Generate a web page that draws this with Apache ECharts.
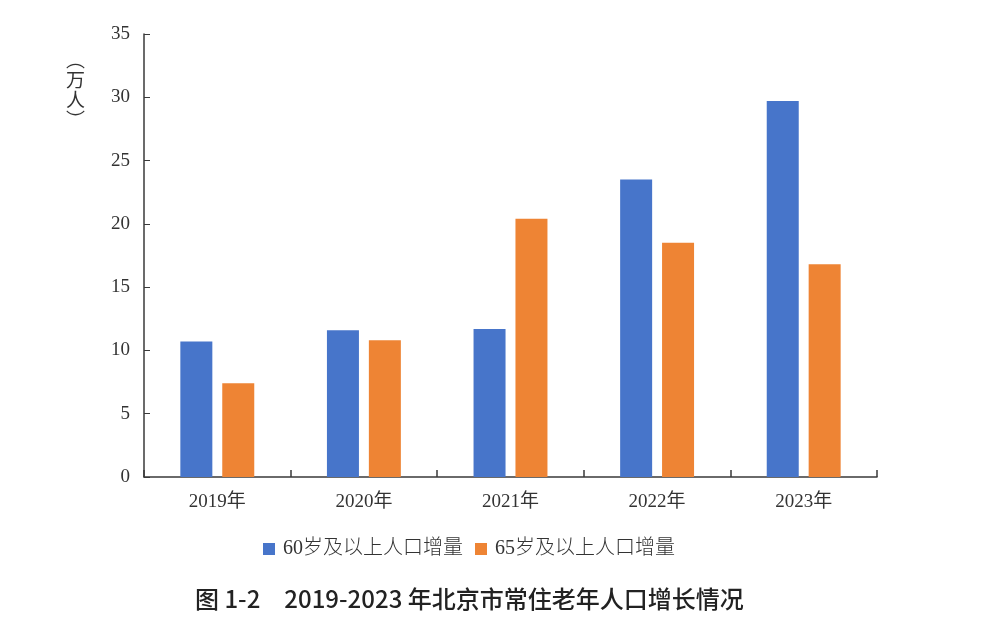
<!DOCTYPE html>
<html>
<head>
<meta charset="utf-8">
<script src="https://cdn.jsdelivr.net/npm/echarts@6/dist/echarts.min.js"></script>
<style>
  html, body { margin: 0; padding: 0; background: #fff; }
  #chart { width: 984px; height: 634px; }
</style>
</head>
<body>
<div id="chart"></div>
<script>
// 数据
const years = ["2019年", "2020年", "2021年", "2022年", "2023年"];
const over60 = [10.7, 11.6, 11.7, 23.5, 29.7];
const over65 = [7.4, 10.8, 20.4, 18.5, 16.8];
const seriesNames = ["60岁及以上人口增量", "65岁及以上人口增量"];
const titleText = "图 1-2　2019-2023 年北京市常住老年人口增长情况";

const chart = echarts.init(document.getElementById("chart"));

const serif = "Liberation Serif";
const axisColor = "#3a3a3a";

const option = {
  animation: false,
  backgroundColor: "#fff",
  grid: {
    left: 144,
    right: 107,
    top: 34,
    bottom: 157,
  },
  legend: {
    bottom: 70,
    left: 258,
    itemWidth: 12,
    itemHeight: 12,
    itemGap: 12,
    icon: "rect",
    textStyle: {
      fontFamily: serif + ", Noto Sans CJK SC",
      fontSize: 20,
      fontWeight: 300,
      color: "#333",
      padding: [0, 0, 0, 3],
    },
    data: seriesNames,
  },
  xAxis: {
    type: "category",
    data: years,
    axisLine: { lineStyle: { color: axisColor, width: 1.5 } },
    axisTick: {
      show: true,
      inside: true,
      length: 7,
      alignWithLabel: false,
      lineStyle: { color: axisColor, width: 1.5 },
    },
    axisLabel: {
      margin: 16,
      fontFamily: serif + ", Noto Sans CJK SC",
      fontSize: 19,
      color: "#333",
    },
  },
  yAxis: {
    type: "value",
    min: 0,
    max: 35,
    interval: 5,
    splitLine: { show: false },
    axisLine: { show: true, lineStyle: { color: axisColor, width: 1.5 } },
    axisTick: { show: true, inside: true, length: 6, lineStyle: { color: axisColor } },
    axisLabel: {
      margin: 14,
      fontFamily: serif,
      fontSize: 19,
      color: "#333",
    },
  },
  graphic: [
    {
      type: "text",
      left: 66,
      top: 50,
      style: {
        text: "︵\n万\n人\n︶",
        fontFamily: "Noto Sans CJK SC",
        fontSize: 19,
        lineHeight: 20,
        fill: "#333",
        align: "center",
      },
    },
    {
      type: "text",
      left: 195,
      top: 587,
      style: {
        text: titleText,
        fontFamily: "Noto Sans CJK SC",
        fontSize: 24,
        fontWeight: 500,
        fill: "#222",
      },
    },
  ],
  series: [
    {
      name: seriesNames[0],
      type: "bar",
      data: over60,
      barWidth: 32,
      barGap: "31%",
      itemStyle: { color: "#4775CA" },
    },
    {
      name: seriesNames[1],
      type: "bar",
      data: over65,
      barWidth: 32,
      itemStyle: { color: "#EE8434" },
    },
  ],
};

chart.setOption(option);
</script>
</body>
</html>
